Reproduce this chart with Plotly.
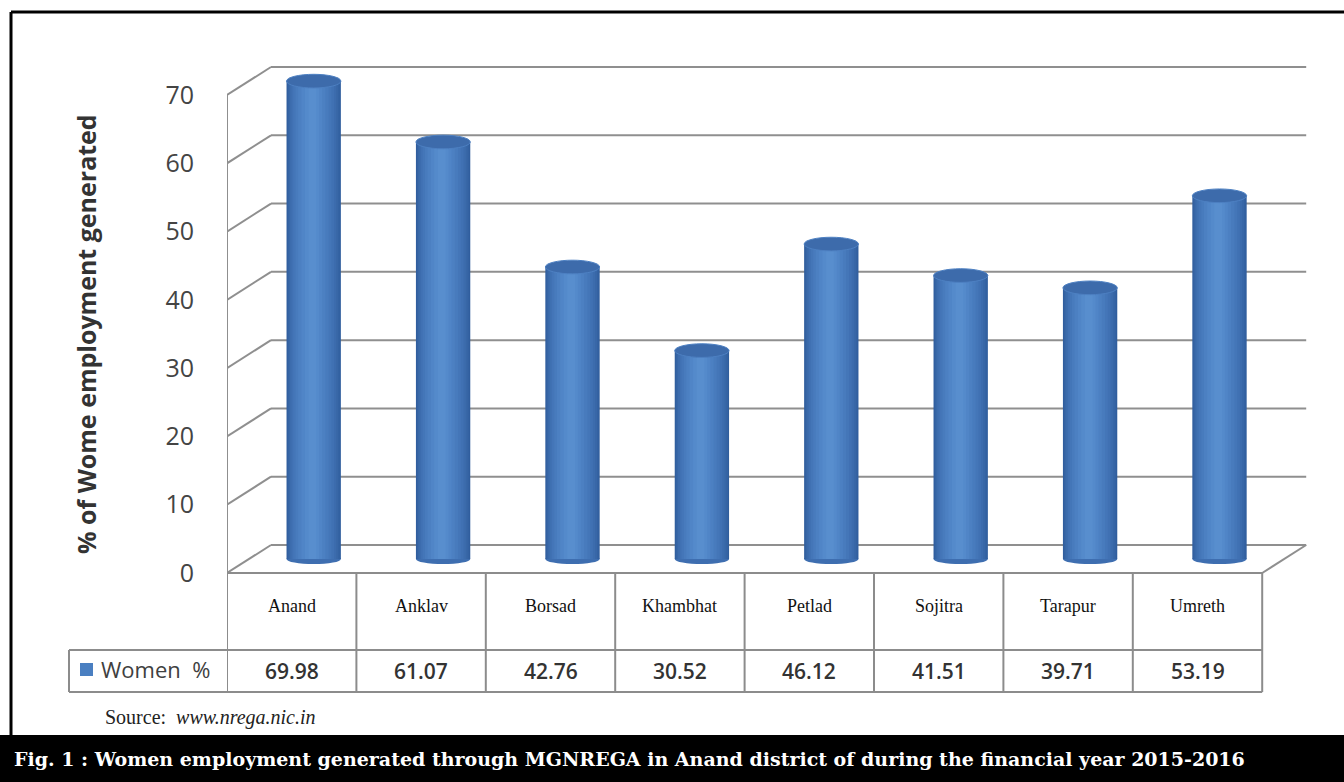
import plotly.graph_objects as go

# ---------------- data ----------------
categories = ["Anand", "Anklav", "Borsad", "Khambhat", "Petlad", "Sojitra", "Tarapur", "Umreth"]
women_pct = [69.98, 61.07, 42.76, 30.52, 46.12, 41.51, 39.71, 53.19]
y_ticks = [0, 10, 20, 30, 40, 50, 60, 70]
series_name = "Women %"
y_title = "% of Wome employment generated"
caption = "Fig. 1 : Women employment generated through MGNREGA in Anand district of during the financial year 2015-2016"
source_label = "Source: "
source_url = "www.nrega.nic.in"

# ---------------- geometry ----------------
W, H = 1344, 782
X0PX = 227.0            # pixel of the front-left wall edge
COLW = 129.4            # pixels per category
Y0PX = 573.0            # pixel of value 0 (front)
PXU = 478.0 / 70.0      # pixels per value unit
DX = 44.0 / COLW        # depth offset, x (data units)
DY = 28.0 / PXU         # depth offset, y (data units)
n = len(categories)
ymax = max(y_ticks)


def py(p):  # pixel row -> paper y
    return 1 - p / H


def px(p):  # pixel column -> paper x
    return p / W


x_range = [-0.5, -0.5 + (W - X0PX) / COLW]
y_range = [-(H - Y0PX) / PXU, Y0PX / PXU]

grid_col = "#8f8f8f"
tab_col = "#8c8c8c"

fig = go.Figure()

# ---------------- cylinders (layered bars for shading) ----------------
xc = [i + DX / 2 for i in range(n)]
layers = [
    (-0.21, 0.42, "#305e9d"),
    (-0.203, 0.405, "#3462a2"),
    (-0.195, 0.385, "#3867a7"),
    (-0.185, 0.36, "#3c6cad"),
    (-0.172, 0.33, "#4071b3"),
    (-0.158, 0.295, "#4476b8"),
    (-0.14, 0.255, "#487bbd"),
    (-0.12, 0.21, "#4c80c2"),
    (-0.095, 0.16, "#5085c7"),
    (-0.068, 0.11, "#548acb"),
    (-0.04, 0.06, "#588ece"),
]
for off, wd, col in layers:
    fig.add_trace(go.Bar(
        x=xc, y=women_pct, base=[DY / 2] * n,
        offset=off, width=wd, marker=dict(color=col, line=dict(width=0)),
        name=series_name, showlegend=False, hoverinfo="skip",
    ))

shapes = []
# ---------------- 3D frame: back wall gridlines, side wall, floor ----------------
for t in y_ticks:
    shapes.append(dict(type="line", xref="x", yref="y", layer="below",
                       x0=-0.5 + DX, x1=n - 0.5 + DX, y0=t + DY, y1=t + DY,
                       line=dict(color=grid_col, width=2)))
    shapes.append(dict(type="line", xref="x", yref="y", layer="below",
                       x0=-0.5, x1=-0.5 + DX, y0=t, y1=t + DY,
                       line=dict(color=grid_col, width=2)))
shapes.append(dict(type="line", xref="x", yref="y", layer="below",
                   x0=-0.5, x1=-0.5, y0=0, y1=ymax,
                   line=dict(color=grid_col, width=2)))
shapes.append(dict(type="line", xref="x", yref="y", layer="below",
                   x0=n - 0.5, x1=n - 0.5 + DX, y0=0, y1=DY,
                   line=dict(color=grid_col, width=2)))

# bottom ellipses of cylinders
for i in range(n):
    shapes.append(dict(type="circle", xref="x", yref="y", layer="below",
                       x0=xc[i] - 0.21, x1=xc[i] + 0.21,
                       y0=DY / 2 - 0.75, y1=DY / 2 + 0.75,
                       fillcolor="#3e6eb0", line=dict(width=0)))
# top caps
for i, v in enumerate(women_pct):
    shapes.append(dict(type="circle", xref="x", yref="y", layer="above",
                       x0=xc[i] - 0.21, x1=xc[i] + 0.21,
                       y0=v + DY / 2 - 1.0, y1=v + DY / 2 + 1.0,
                       fillcolor="#3d6bab", line=dict(color="#4d80c2", width=1)))

# ---------------- data table ----------------
ROW1_TOP, ROW2_TOP, ROW2_BOT = 573, 650, 692
LEG_LEFT = 69
for k in range(n + 1):
    shapes.append(dict(type="line", xref="x", yref="paper",
                       x0=k - 0.5, x1=k - 0.5, y0=py(ROW1_TOP), y1=py(ROW2_BOT),
                       line=dict(color=tab_col, width=2)))
shapes.append(dict(type="line", xref="x", yref="paper",
                   x0=-0.5, x1=n - 0.5, y0=py(ROW1_TOP), y1=py(ROW1_TOP),
                   line=dict(color=tab_col, width=2)))
for r in (ROW2_TOP, ROW2_BOT):
    shapes.append(dict(type="line", xref="paper", yref="paper",
                       x0=px(LEG_LEFT), x1=px(X0PX + n * COLW), y0=py(r), y1=py(r),
                       line=dict(color=tab_col, width=2)))
shapes.append(dict(type="line", xref="paper", yref="paper",
                   x0=px(LEG_LEFT), x1=px(LEG_LEFT), y0=py(ROW2_TOP), y1=py(ROW2_BOT),
                   line=dict(color=tab_col, width=2)))
# legend swatch
shapes.append(dict(type="rect", xref="paper", yref="paper",
                   x0=px(80), x1=px(93), y0=py(676), y1=py(663),
                   fillcolor="#4a7fc1", line=dict(width=0)))

# ---------------- outer frame & caption band ----------------
shapes.append(dict(type="line", xref="paper", yref="paper",
                   x0=px(11), x1=1.01, y0=py(12), y1=py(12),
                   line=dict(color="black", width=3)))
shapes.append(dict(type="line", xref="paper", yref="paper",
                   x0=px(11), x1=px(11), y0=py(12), y1=py(736),
                   line=dict(color="black", width=3)))
shapes.append(dict(type="rect", xref="paper", yref="paper",
                   x0=0, x1=1, y0=0, y1=py(735),
                   fillcolor="black", line=dict(width=0)))

annotations = []
for i, c in enumerate(categories):
    annotations.append(dict(x=i, y=py(606), xref="x", yref="paper", text=c,
                            showarrow=False, xanchor="center", yanchor="middle",
                            font=dict(family="Liberation Serif", size=18, color="#111")))
for i, v in enumerate(women_pct):
    annotations.append(dict(x=i, y=py(671), xref="x", yref="paper", text=f"{v:.2f}",
                            showarrow=False, xanchor="center", yanchor="middle",
                            font=dict(family="Open Sans", size=21, color="#333", weight=600)))
annotations.append(dict(x=px(99), y=py(669), xref="paper", yref="paper",
                        text="Women  %", showarrow=False, xanchor="left", yanchor="middle",
                        font=dict(family="Open Sans", size=22, color="#404040")))
annotations.append(dict(x=px(86), y=py(334), xref="paper", yref="paper",
                        text=y_title, textangle=-90, showarrow=False,
                        xanchor="center", yanchor="middle",
                        font=dict(family="Open Sans", size=25, color="#333", weight="bold")))
annotations.append(dict(x=px(103), y=py(717), xref="paper", yref="paper",
                        text=source_label + " <i>" + source_url + "</i>", showarrow=False,
                        xanchor="left", yanchor="middle",
                        font=dict(family="Liberation Serif", size=20, color="#222")))
annotations.append(dict(x=px(12), y=py(759), xref="paper", yref="paper",
                        text="<b>" + caption + "</b>", showarrow=False,
                        xanchor="left", yanchor="middle",
                        font=dict(family="DejaVu Serif", size=19, color="white")))

fig.update_layout(
    width=W, height=H,
    margin=dict(l=0, r=0, t=0, b=0),
    paper_bgcolor="white", plot_bgcolor="rgba(0,0,0,0)",
    barmode="overlay", showlegend=False,
    shapes=shapes, annotations=annotations,
    xaxis=dict(domain=[X0PX / W, 1], range=x_range, visible=False, fixedrange=True),
    yaxis=dict(domain=[0, 1], range=y_range, tickvals=y_ticks,
               showgrid=False, zeroline=False, showline=False,
               ticks="", ticklabelstandoff=32,
               tickfont=dict(family="Open Sans", size=25, color="#444"),
               fixedrange=True),
)

fig.write_html("out.html")
